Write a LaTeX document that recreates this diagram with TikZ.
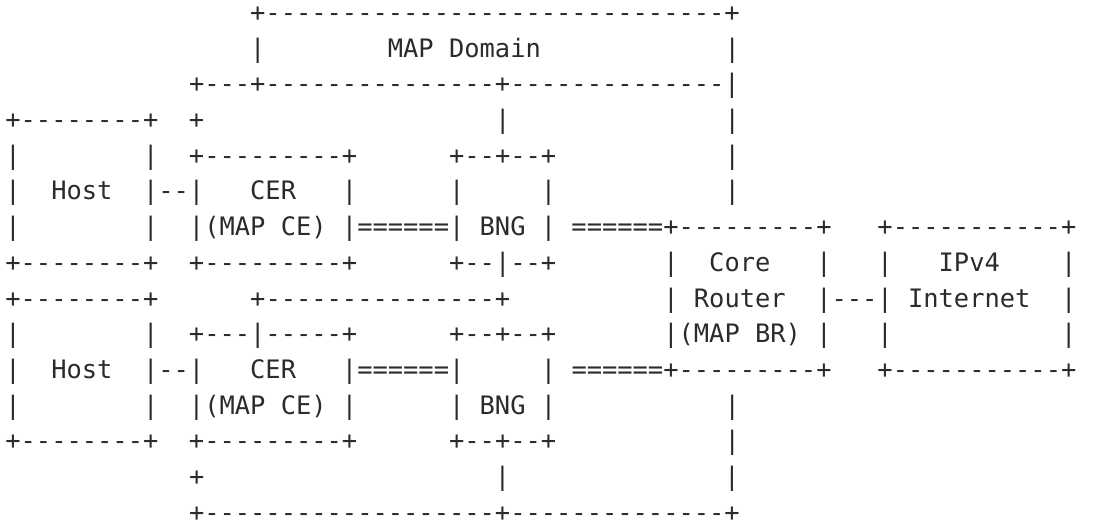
\documentclass[tikz,border=0pt]{standalone}
\usepackage{fontspec}
\usepackage{tikz}
\usepackage{xcolor}
\setmonofont{DejaVu Sans Mono}

\definecolor{asciiink}{HTML}{2B2B2B}
\newlength{\cw}
\setlength{\cw}{7.65pt}
\newcommand{\gap}[1]{\hspace*{#1\cw}}

\tikzset{artline/.style={anchor=base west, inner sep=0pt, outer sep=0pt, text=asciiink,
    font=\ttfamily\fontsize{12.707}{15}\selectfont}}

\begin{document}
\begin{tikzpicture}[x=7.65pt, y=-17.85pt]
  \useasboundingbox (-0.353,0.398) rectangle (71.543,15.020);

  \node[artline] (r1) at (16,1) {+------------------------------+};
  \node[artline] (r2) at (16,2) {|\gap{8}MAP Domain\gap{12}|};
  \node[artline] (r3) at (12,3) {+---+---------------+--------------|};
  \node[artline] (r4) at (0,4) {+--------+\gap{2}+\gap{19}|\gap{14}|};
  \node[artline] (r5) at (0,5) {|\gap{8}|\gap{2}+---------+\gap{6}+--+--+\gap{11}|};
  \node[artline] (r6) at (0,6) {|\gap{2}Host\gap{2}|--|\gap{3}CER\gap{3}|\gap{6}|\gap{5}|\gap{11}|};
  \node[artline] (r7) at (0,7) {|\gap{8}|\gap{2}|(MAP CE)\gap{1}|======|\gap{1}BNG\gap{1}|\gap{1}======+---------+\gap{3}+-----------+};
  \node[artline] (r8) at (0,8) {+--------+\gap{2}+---------+\gap{6}+--|--+\gap{7}|\gap{2}Core\gap{3}|\gap{3}|\gap{3}IPv4\gap{4}|};
  \node[artline] (r9) at (0,9) {+--------+\gap{6}+---------------+\gap{10}|\gap{1}Router\gap{2}|---|\gap{1}Internet\gap{2}|};
  \node[artline] (r10) at (0,10) {|\gap{8}|\gap{2}+---|-----+\gap{6}+--+--+\gap{7}|(MAP BR)\gap{1}|\gap{3}|\gap{11}|};
  \node[artline] (r11) at (0,11) {|\gap{2}Host\gap{2}|--|\gap{3}CER\gap{3}|======|\gap{5}|\gap{1}======+---------+\gap{3}+-----------+};
  \node[artline] (r12) at (0,12) {|\gap{8}|\gap{2}|(MAP CE)\gap{1}|\gap{6}|\gap{1}BNG\gap{1}|\gap{11}|};
  \node[artline] (r13) at (0,13) {+--------+\gap{2}+---------+\gap{6}+--+--+\gap{11}|};
  \node[artline] (r14) at (12,14) {+\gap{19}|\gap{14}|};
  \node[artline] (r15) at (12,15) {+-------------------+--------------+};
\end{tikzpicture}
\end{document}
